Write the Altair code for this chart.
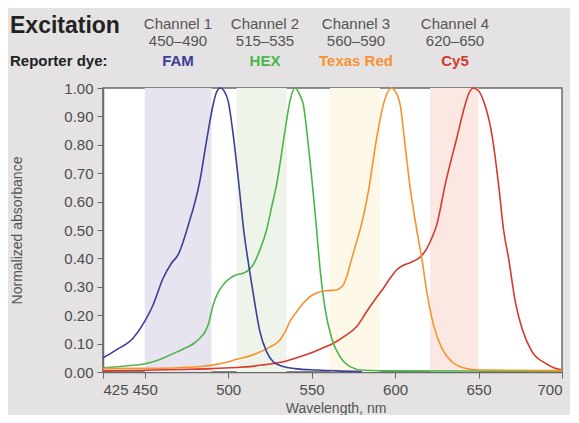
import altair as alt
import pandas as pd

# ---- data ----
fam_nm = [425, 433, 443, 450, 455, 461, 466, 470, 476, 483, 487, 491, 493, 495.3, 497.5, 500, 503, 506, 509.3, 513, 516, 519, 523, 527, 533, 540, 553, 565, 580]
fam_v = [0.05, 0.078, 0.119, 0.178, 0.236, 0.33, 0.383, 0.413, 0.515, 0.672, 0.813, 0.942, 0.985, 1.0, 0.99, 0.954, 0.836, 0.683, 0.50, 0.35, 0.24, 0.142, 0.072, 0.036, 0.019, 0.012, 0.007, 0.004, 0.002]

hex_nm = [425, 440, 451, 457, 463, 469, 475, 480, 483, 486, 488, 491, 494, 497, 501, 505, 509, 511, 514, 516, 519, 523, 526, 529, 534, 537, 540, 543, 545, 548.4, 553, 555, 558, 562, 567, 573, 581, 600, 700]
hex_v = [0.015, 0.022, 0.03, 0.04, 0.054, 0.07, 0.086, 0.103, 0.119, 0.14, 0.166, 0.236, 0.28, 0.307, 0.33, 0.342, 0.348, 0.354, 0.37, 0.389, 0.43, 0.50, 0.58, 0.66, 0.848, 0.954, 1.0, 0.975, 0.942, 0.777, 0.50, 0.366, 0.225, 0.119, 0.054, 0.019, 0.006, 0.004, 0.003]

txr_nm = [425, 450, 470, 485, 492, 499, 505, 512, 518, 524, 531, 534, 537, 541, 545, 549, 553, 558, 565, 567, 569, 571, 573, 577, 579, 584, 589, 593, 595.5, 597.8, 600.5, 603, 606.4, 609, 613, 616, 619, 623, 628, 634, 642, 650, 700]
txr_v = [0.012, 0.013, 0.015, 0.02, 0.026, 0.034, 0.045, 0.055, 0.068, 0.085, 0.113, 0.14, 0.178, 0.212, 0.242, 0.265, 0.278, 0.286, 0.289, 0.295, 0.307, 0.335, 0.378, 0.46, 0.50, 0.636, 0.825, 0.942, 0.985, 1.0, 0.985, 0.942, 0.777, 0.65, 0.50, 0.40, 0.283, 0.166, 0.084, 0.036, 0.013, 0.007, 0.005]

cy5_nm = [425, 450, 470, 490, 505, 513, 522, 533, 541, 549, 556, 563, 570, 577, 583, 588, 593, 597, 601, 605, 609, 614, 618, 622, 625, 630, 637, 642, 644.5, 647, 650, 653, 658, 662, 665, 668, 672, 676, 682, 690, 695, 700]
cy5_v = [0.004, 0.006, 0.009, 0.012, 0.016, 0.019, 0.026, 0.036, 0.05, 0.066, 0.083, 0.101, 0.127, 0.16, 0.213, 0.255, 0.295, 0.33, 0.36, 0.376, 0.385, 0.40, 0.425, 0.472, 0.519, 0.66, 0.825, 0.942, 0.985, 1.0, 0.99, 0.954, 0.836, 0.66, 0.50, 0.40, 0.248, 0.154, 0.072, 0.031, 0.015, 0.007]

dyes = ["FAM", "HEX", "Texas Red", "Cy5"]
dye_colors = ["#3a3f98", "#4bb649", "#f8922e", "#d7392b"]
channels = ["Channel 1", "Channel 2", "Channel 3", "Channel 4"]
ranges = ["450\u2013490", "515\u2013535", "560\u2013590", "620\u2013650"]
band_start = [450, 505, 561, 621]
band_end = [490, 535, 591, 650]
band_colors = ["#e7e4f0", "#eef4ea", "#fef8e9", "#fce8e3"]
x_ticks = [425, 450, 500, 550, 600, 650, 700]
y_ticks = [0.0, 0.1, 0.2, 0.3, 0.4, 0.5, 0.6, 0.7, 0.8, 0.9, 1.0]

# ---- tables ----
rows = []
for name, xs, vs in [("FAM", fam_nm, fam_v), ("HEX", hex_nm, hex_v),
                     ("Texas Red", txr_nm, txr_v), ("Cy5", cy5_nm, cy5_v)]:
    for a, b in zip(xs, vs):
        rows.append({"dye": name, "nm": a, "v": b})
spectra = pd.DataFrame(rows)
bands = pd.DataFrame({"start": band_start, "end": band_end, "col": band_colors})

W, H = 459, 284
FONT = "Liberation Sans"

xscale = alt.Scale(domain=[425, 700], nice=False, zero=False)
yscale = alt.Scale(domain=[0, 1], nice=False)
xaxis = alt.Axis(values=x_ticks, title="Wavelength, nm", format="d", labelOverlap=False,
                 titleX=W / 2 + 3, titleY=40, titleBaseline="alphabetic")
yaxis = alt.Axis(values=y_ticks, format=".2f", title="Normalized absorbance",
                 labelOverlap=False, tickCount=11,
                 titleX=-86, titleY=H / 2, titleAngle=-90,
                 titleBaseline="middle", titleAlign="center")

band_layer = alt.Chart(bands).mark_rect().encode(
    x=alt.X("start:Q", scale=xscale, axis=xaxis),
    x2="end:Q",
    y=alt.datum(0, scale=yscale, axis=yaxis),
    y2=alt.datum(1),
    color=alt.Color("col:N", scale=None),
)

line_order = ["Cy5", "HEX", "Texas Red", "FAM"]
line_layers = []
for name in line_order:
    line_layers.append(
        alt.Chart(spectra[spectra["dye"] == name]).mark_line(
            strokeWidth=1.6, interpolate="monotone"
        ).encode(
            x=alt.X("nm:Q", scale=xscale, axis=xaxis),
            y=alt.Y("v:Q", scale=yscale, axis=yaxis),
            color=alt.Color("dye:N", scale=alt.Scale(domain=dyes, range=dye_colors), legend=None),
        )
    )

header = []
def txt(s, x, y, size, color, weight="normal", align="center"):
    return alt.Chart(pd.DataFrame({"t": [s]})).mark_text(
        font=FONT, fontSize=size, color=color, fontWeight=weight, align=align,
        baseline="alphabetic"
    ).encode(text="t:N", x=alt.value(x), y=alt.value(y))

header.append(txt("Excitation", -93, -55, 23, "#222222", "bold", "left"))
header.append(txt("Reporter dye:", -93, -22, 15, "#222222", "bold", "left"))
centers = [75, 162, 253, 352]
for c, ch, rg, dn, dc in zip(centers, channels, ranges, dyes, dye_colors):
    header.append(txt(ch, c, -59, 15, "#555555"))
    header.append(txt(rg, c, -42, 15, "#555555"))
    header.append(txt(dn, c, -22, 15, dc, "bold"))

chart = alt.layer(band_layer, *line_layers, *header).properties(
    width=W, height=H,
    background="#e4e2e3",
    padding={"left": 95, "top": 80, "right": 8, "bottom": 43},
    autosize=alt.AutoSizeParams(type="none"),
).configure_view(
    fill="white", stroke="#6a6a6a", strokeWidth=1.5
).configure_axis(
    labelFont=FONT, labelFontSize=15, labelColor="#4d4d4d",
    titleFont=FONT, titleFontSize=14, titleColor="#555555", titleFontWeight="normal",
    domainColor="#6a6a6a", domainWidth=1.5, tickColor="#6a6a6a", tickSize=6,
    labelPadding=4, grid=False,
)

chart.save("out.html", embed_options={"renderer": "svg", "actions": False})
